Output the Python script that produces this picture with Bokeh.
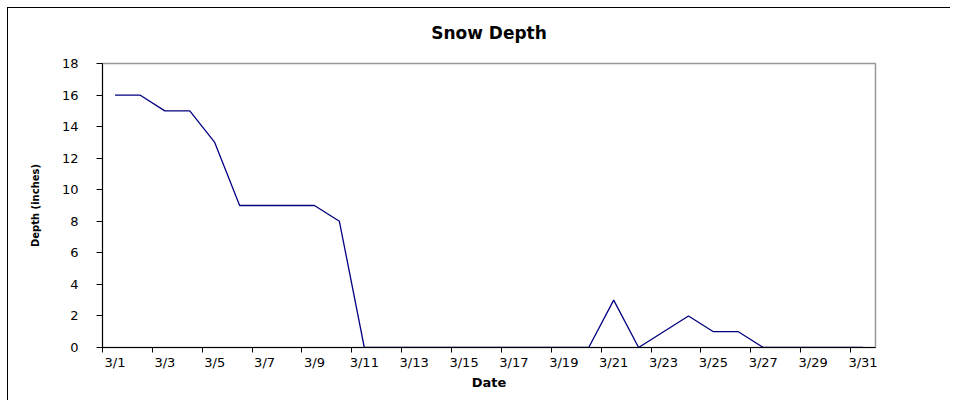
from bokeh.plotting import figure
from bokeh.models import FixedTicker, Range1d
from bokeh.embed import file_html
from bokeh.resources import INLINE

# ---- data ----
dates = ["3/1", "3/2", "3/3", "3/4", "3/5", "3/6", "3/7", "3/8", "3/9", "3/10",
         "3/11", "3/12", "3/13", "3/14", "3/15", "3/16", "3/17", "3/18", "3/19", "3/20",
         "3/21", "3/22", "3/23", "3/24", "3/25", "3/26", "3/27", "3/28", "3/29", "3/30", "3/31"]
depth = [16, 16, 15, 15, 13, 9, 9, 9, 9, 8,
         0, 0, 0, 0, 0, 0, 0, 0, 0, 0,
         3, 0, 1, 2, 1, 1, 0, 0, 0, 0, 0]
y_ticks = [0, 2, 4, 6, 8, 10, 12, 14, 16, 18]

FONT = "DejaVu Sans"
n = len(dates)
# category i occupies [2i, 2i+2]; its centre is at 2i+1
xs = [2 * i + 1 for i in range(n)]

p = figure(width=950, height=400, output_backend="svg", toolbar_location=None,
           x_range=Range1d(0, 2 * n), y_range=Range1d(0, 18),
           min_border_left=102, min_border_right=75, min_border_top=63, min_border_bottom=53)
p.border_fill_alpha = 0
p.styles = {
    "background": "linear-gradient(#000,#000) 7px 7px / 1px 100% no-repeat, "
                  "linear-gradient(#000,#000) 7px 7px / 100% 1px no-repeat, white"
}
p.background_fill_color = "white"
p.grid.visible = False
p.outline_line_color = "#999999"
p.outline_line_width = 1.5

p.title.text = "Snow Depth"
p.title.align = "center"
p.title.text_font = FONT
p.title.text_font_size = "17px"
p.title.text_font_style = "bold"
p.title.text_color = "black"
p.title.standoff = 41

p.line(x=xs, y=depth, line_color="#000080", line_width=1.3)

# y axis
ya = p.yaxis[0]
ya.ticker = FixedTicker(ticks=y_ticks)
ya.axis_line_color = "black"
ya.major_tick_line_color = "black"
ya.major_tick_out = 6
ya.major_tick_in = 0
ya.minor_tick_line_color = None
ya.major_label_standoff = 18
ya.major_label_text_font = FONT
ya.major_label_text_font_size = "13px"
ya.major_label_text_color = "black"
ya.axis_label = "Depth (inches)"
ya.axis_label_text_font = FONT
ya.axis_label_text_font_size = "10px"
ya.axis_label_text_font_style = "bold"
ya.axis_label_text_color = "black"
ya.axis_label_standoff = 18

# x axis: labels at centres of every other category, ticks at boundaries
xa = p.xaxis[0]
label_idx = list(range(0, n, 2))
xa.ticker = FixedTicker(ticks=[xs[i] for i in label_idx],
                        minor_ticks=[2 * i for i in label_idx])
xa.major_label_overrides = {xs[i]: dates[i] for i in label_idx}
xa.axis_line_color = "black"
xa.major_tick_out = 0
xa.major_tick_in = 0
xa.minor_tick_line_color = "black"
xa.minor_tick_out = 5
xa.minor_tick_in = 0
xa.major_label_standoff = 2
xa.major_label_text_font = FONT
xa.major_label_text_font_size = "13px"
xa.major_label_text_color = "black"
xa.axis_label = "Date"
xa.axis_label_text_font = FONT
xa.axis_label_text_font_size = "13px"
xa.axis_label_text_font_style = "bold"
xa.axis_label_text_color = "black"
xa.axis_label_standoff = 2

open("out.html", "w").write(file_html(p, INLINE))
